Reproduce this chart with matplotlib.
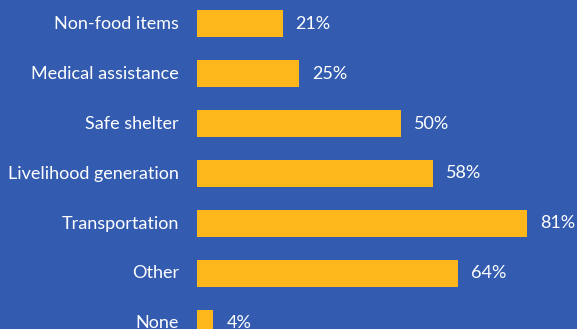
import matplotlib.pyplot as plt

categories = ['Non-food items', 'Medical assistance', 'Safe shelter',
              'Livelihood generation', 'Transportation', 'Other', 'None']
values = [21, 25, 50, 58, 81, 64, 4]

bg = '#335CB1'
bar_color = '#FDB71A'
text_color = '#FFFFFF'

plt.rcParams['font.family'] = ['Lato', 'DejaVu Sans']

fig = plt.figure(figsize=(5.77, 3.29), dpi=100, facecolor=bg)
# rows are 50 px apart, first row centred 23.5 px from the top; last row runs off the bottom
W, H = 577.0, 329.0
left_px, px_per_unit = 197.0, 4.074
xmax = (W - left_px) / px_per_unit
top_px = 23.5 - 25
bottom_px = 23.5 + 50 * 6.5
ax = fig.add_axes([left_px / W, (H - bottom_px) / H, 1 - left_px / W, (bottom_px - top_px) / H])
ax.set_facecolor(bg)

y = list(range(len(categories)))
ax.barh(y, values, height=0.54, color=bar_color, left=0)
ax.set_xlim(0, xmax)
ax.set_ylim(len(categories) - 0.5, -0.5)

for yi, v in zip(y, values):
    ax.text(v + 13 / px_per_unit, yi, f'{v}%', va='center', ha='left',
            color=text_color, fontsize=13)
for yi, c in zip(y, categories):
    ax.text(-18 / px_per_unit, yi, c, va='center', ha='right',
            color=text_color, fontsize=13)

ax.set_xticks([])
ax.set_yticks([])
for s in ax.spines.values():
    s.set_visible(False)

fig.savefig('out.png', dpi=100, facecolor=bg)
